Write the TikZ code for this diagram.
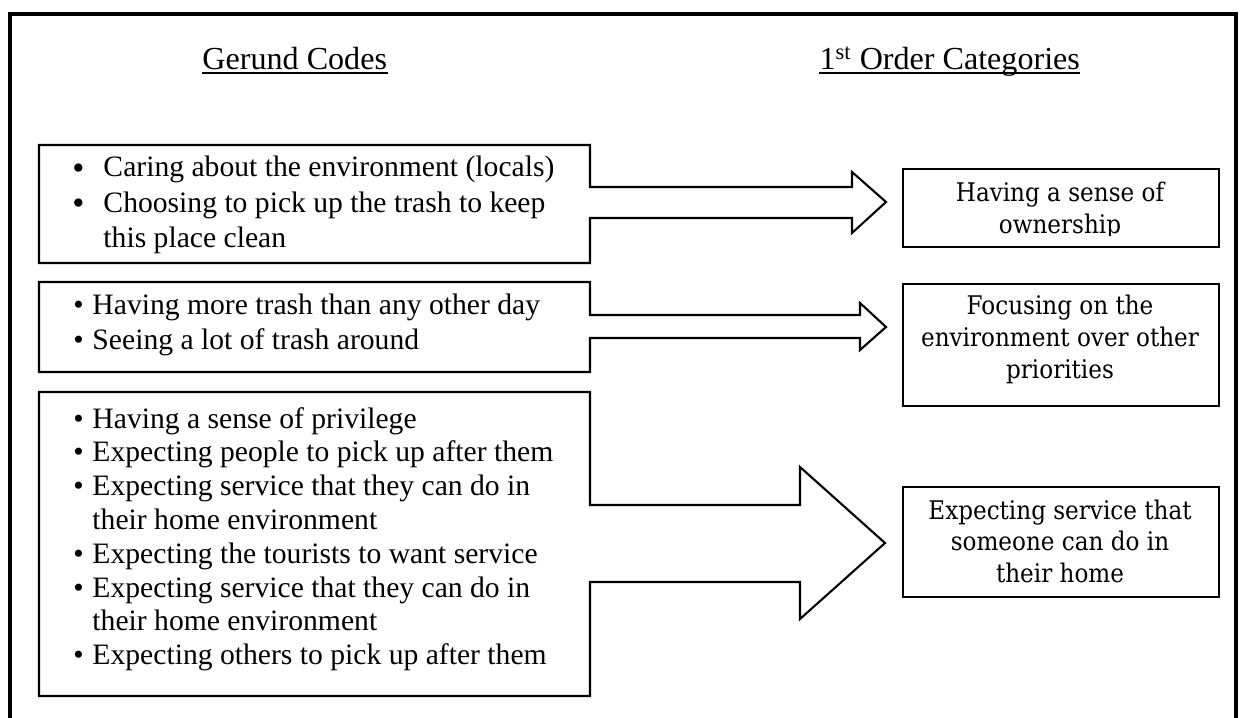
\documentclass[tikz,border=0pt]{standalone}
\usepackage{fontspec}
\setmainfont{Liberation Serif}
\newfontfamily\catfont[FakeStretch = 0.9]{DejaVu Serif}
\newlength\px
\setlength\px{0.405pt}
\newcommand\bigbullet{\raisebox{-1.1pt}{\fontsize{14}{14}\selectfont\textbullet}}
\tikzset{
	frame/.style = {line width = 2pt},
	outline/.style = {line width = 0.85pt},
	underline/.style = {line width = 0.8pt},
	codebox/.style = {anchor = north west, inner sep = 0pt, minimum width = 550*\px},
	codes/.style = {anchor = base west, inner sep = 0pt},
	catbox/.style = {draw, line width = 1pt, anchor = north west, inner sep = 0pt, minimum width = 316*\px},
	cat/.style = {anchor = base, inner sep = 0pt, font = \catfont\fontsize{10.4}{12.8}\selectfont},
	head/.style = {anchor = base west, inner sep = 0pt, font = \fontsize{13}{15}\selectfont}
}
\begin{document}
\begin{tikzpicture}[x = \px, y = -\px]
	\useasboundingbox (0, 0) rectangle (1243, 718);
	\draw[frame] (10, 718) -- (10, 14) -- (1236, 14) -- (1236, 718);
	\node[head] (hcodes) at (202, 70) {Gerund Codes\ };
	\node[head] (hcats) at (819, 70) {1\textsuperscript{st} Order Categories};
	\draw[underline] ([yshift = -3\px] hcodes.base west) -- ([yshift = -3\px] hcodes.base east);
	\draw[underline] ([yshift = -3\px] hcats.base west) -- ([yshift = -3\px] hcats.base east);
	% gerund codes
	\node[codebox, minimum height = 117*\px] (g1) at (39, 145) {};
	\node[codebox, minimum height = 89*\px] (g2) at (39, 282) {};
	\node[codebox, minimum height = 303*\px] (g3) at (39, 392) {};
	\node[codes, font = \fontsize{12}{14.2}\selectfont] (g1list) at (72, 177) {\begin{tabular}[t]{@{}p{31\px}@{}l@{}}
		\bigbullet & Caring about the environment (locals)\\
		\bigbullet & Choosing to pick up the trash to keep\\
		& this place clean
	\end{tabular}};
	\node[codes, font = \fontsize{12}{13.8}\selectfont] (g2list) at (73, 315) {\begin{tabular}[t]{@{}p{19\px}@{}l@{}}
		\textbullet & Having more trash than any other day\\
		\textbullet & Seeing a lot of trash around
	\end{tabular}};
	\node[codes, font = \fontsize{12}{13.7}\selectfont] (g3list) at (73, 428) {\begin{tabular}[t]{@{}p{19\px}@{}l@{}}
		\textbullet & Having a sense of privilege\\
		\textbullet & Expecting people to pick up after them\\
		\textbullet & Expecting service that they can do in\\
		& their home environment\\
		\textbullet & Expecting the tourists to want service\\
		\textbullet & Expecting service that they can do in\\
		& their home environment\\
		\textbullet & Expecting others to pick up after them
	\end{tabular}};
	% 1st order categories
	\node[catbox, minimum height = 78*\px] (c1) at (902, 168) {};
	\node[catbox, minimum height = 122*\px] (c2) at (902, 283) {};
	\node[catbox, minimum height = 110*\px] (c3) at (902, 486) {};
	\begin{scope}
		\clip (c1.north west) rectangle (c1.east |- 0, 236);
		\node[cat] (c1text) at (1060, 202) {\begin{tabular}[t]{@{}c@{}} Having a sense of\\ ownership \end{tabular}};
	\end{scope}
	\node[cat] (c2text) at (1060, 315) {\begin{tabular}[t]{@{}c@{}} Focusing on the\\ environment over other\\ priorities \end{tabular}};
	\node[cat] (c3text) at (1060, 519) {\begin{tabular}[t]{@{}c@{}} Expecting service that\\ someone can do in\\ their home \end{tabular}};
	% box and arrow outlines
	\coordinate (t1) at (886, 202);
	\coordinate (t2) at (886, 327);
	\coordinate (t3) at (885, 543);
	\draw[outline] (g1.north west) -- (g1.north east) -- (g1.east |- 0, 187) -- (852, 187) -- (852, 172) -- (t1) -- (852, 233) -- (852, 218) -- (g1.east |- 0, 218) -- (g1.south east) -- (g1.south west) -- cycle;
	\draw[outline] (g2.north west) -- (g2.north east) -- (g2.east |- 0, 315) -- (860, 315) -- (860, 303) -- (t2) -- (860, 350) -- (860, 338) -- (g2.east |- 0, 338) -- (g2.south east) -- (g2.south west) -- cycle;
	\draw[outline] (g3.north west) -- (g3.north east) -- (g3.east |- 0, 505) -- (800, 505) -- (800, 467) -- (t3) -- (800, 619) -- (800, 582) -- (g3.east |- 0, 582) -- (g3.south east) -- (g3.south west) -- cycle;
\end{tikzpicture}
\end{document}
